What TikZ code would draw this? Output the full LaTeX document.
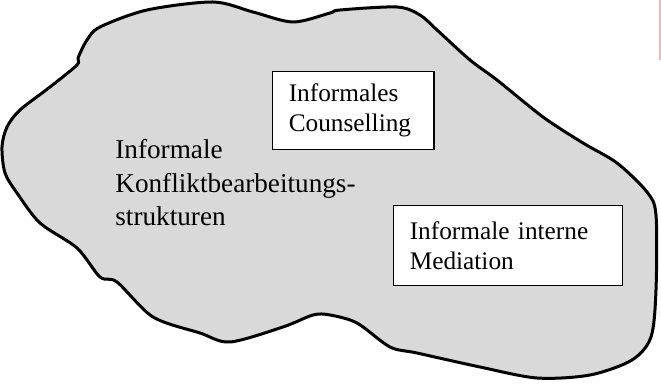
\documentclass[tikz,border=0pt]{standalone}
\usepackage{fontspec}
\setmainfont{Liberation Serif}
\usepackage{tikz}
\usepackage{xcolor}
\definecolor{blobgrey}{HTML}{D9D9D9}
\definecolor{markred}{HTML}{FFB0B0}

\begin{document}
\begin{tikzpicture}[x=0.5pt, y=-0.5pt,
    blob/.style={
      draw=black,
      line width=1.5pt,
      fill=blobgrey,
      line join=round
    },
    box/.style={
      rectangle,
      draw,
      fill=white,
      line width=0.75pt,
      inner xsep=8pt,
      align=left,
      font=\fontsize{12.65pt}{15pt}\selectfont
    },
    label/.style={
      inner sep=0pt,
      align=left,
      font=\fontsize{13.6pt}{16.75pt}\selectfont
    }]
  \useasboundingbox (0,0) rectangle (661,385);
  % outline of the informal area
  \draw[blob] plot[smooth cycle, tension=0.5] coordinates {
    (213,2) (253,12) (293,22) (330,13) (340,10) (397,7) (420,15)
    (437,30) (470,60) (497,80) (543,117) (583,143) (617,163)
    (647,192) (656,215) (656,290) (651,337) (632,360) (590,375)
    (537,378) (480,367) (417,353) (390,347) (357,323) (330,315)
    (313,315) (283,327) (230,342) (200,333) (153,317) (117,282)
    (100,277) (77,248) (40,223) (17,193) (5,173) (2,147) (7,127)
    (20,110) (50,87) (77,65) (78,58) (87,40) (100,27) (147,10)};
  \node[label, text width=200pt, anchor=base west] (struct) at (115,159)
    {Informale\\Konfliktbearbeitungs-\\strukturen};
  \node[box, minimum width=80.7pt, minimum height=39.2pt, text width=64.5pt]
    (couns) at (353.3,110.5) {Informales\\Counselling};
  \node[box, minimum width=114.5pt, minimum height=40pt, text width=98pt]
    (medi) at (507.8,245.7) {Informale interne\\Mediation};
  \draw[markred, line width=0.6pt] (660,0) -- (660,60);
\end{tikzpicture}
\end{document}
